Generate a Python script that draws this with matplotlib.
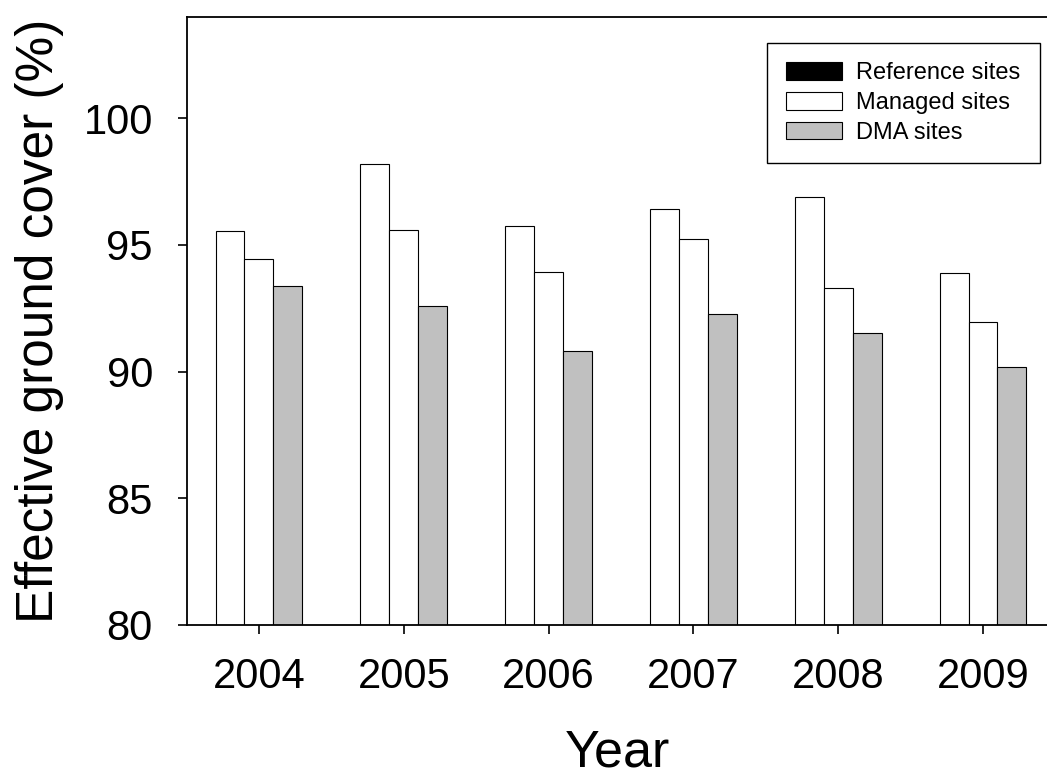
import matplotlib
matplotlib.use("Agg")
import matplotlib.pyplot as plt
from matplotlib.patches import Patch
import numpy as np

years = ["2004", "2005", "2006", "2007", "2008", "2009"]
reference_sites = [95.55, 98.21, 95.74, 96.41, 96.89, 93.90]
managed_sites = [94.44, 95.60, 93.93, 95.23, 93.31, 91.98]
dma_sites = [93.39, 92.58, 90.80, 92.29, 91.54, 90.20]
legend_labels = ["Reference sites", "Managed sites", "DMA sites"]

plt.rcParams['font.family'] = ['Liberation Sans', 'DejaVu Sans']

W, H = 1047, 776
fig = plt.figure(figsize=(W / 100, H / 100), dpi=100)
ax = fig.add_axes([187 / W, 1 - 625 / H, (1047 - 187) / W, (625 - 17) / H])

x = np.arange(len(years))
bw = 0.2
ekw = dict(edgecolor='black', linewidth=0.8)
ax.bar(x - bw, reference_sites, bw, color='white', **ekw, zorder=2)
ax.bar(x, managed_sites, bw, color='white', **ekw, zorder=2)
ax.bar(x + bw, dma_sites, bw, color='#c0c0c0', **ekw, zorder=2)

ax.set_ylim(80, 104)
ax.set_xlim(-0.497, 5.442)
ax.set_yticks([80, 85, 90, 95, 100])
ax.set_xticks(x)
ax.set_xticklabels(years)

ax.spines['right'].set_visible(False)
for s in ['left', 'top', 'bottom']:
    ax.spines[s].set_linewidth(1.3)
    ax.spines[s].set_zorder(3)

ax.tick_params(axis='y', direction='out', length=6.5, width=1.2, pad=18, labelsize=30)
ax.tick_params(axis='x', direction='out', length=6.5, width=1.2, pad=16.5, labelsize=30)

ax.set_ylabel("Effective ground cover (%)", fontsize=37, labelpad=14)
ax.set_xlabel("Year", fontsize=37.5, labelpad=23)

handles = [Patch(facecolor='black', edgecolor='black', linewidth=0.8),
           Patch(facecolor='white', edgecolor='black', linewidth=0.8),
           Patch(facecolor='#c0c0c0', edgecolor='black', linewidth=0.8)]
leg = fig.legend(handles, legend_labels, loc='upper right',
                 bbox_to_anchor=(1040 / W, 1 - 43 / H), borderaxespad=0,
                 fontsize=17, fancybox=False, framealpha=1, edgecolor='black',
                 handlelength=2.35, handleheight=0.76, handletextpad=0.62,
                 labelspacing=0.33, borderpad=0.82)
leg.get_frame().set_linewidth(1.0)

fig.savefig("out.png", dpi=100)
